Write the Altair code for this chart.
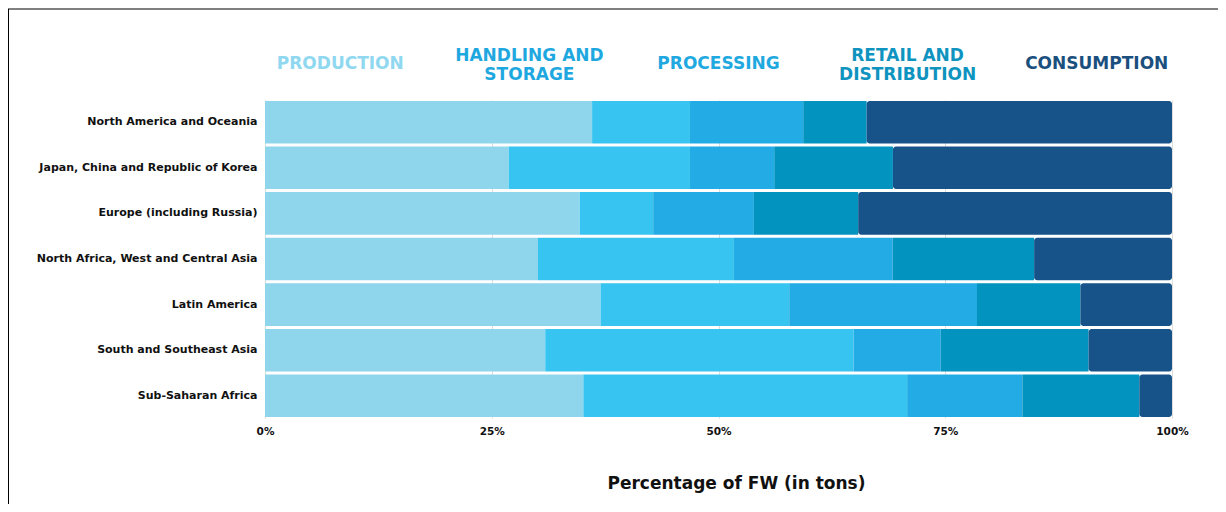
import altair as alt
import pandas as pd

regions = [
    "North America and Oceania",
    "Japan, China and Republic of Korea",
    "Europe (including Russia)",
    "North Africa, West and Central Asia",
    "Latin America",
    "South and Southeast Asia",
    "Sub-Saharan Africa",
]
stages = ["Production", "Handling and storage", "Processing",
          "Retail and distribution", "Consumption"]
headers = ["PRODUCTION", "HANDLING AND\nSTORAGE", "PROCESSING",
           "RETAIL AND\nDISTRIBUTION", "CONSUMPTION"]

production = [36.1, 26.9, 34.7, 30.1, 37.0, 30.9, 35.1]
handling = [10.8, 20.0, 8.1, 21.6, 20.8, 34.0, 35.7]
processing = [12.5, 9.3, 11.1, 17.5, 20.7, 9.6, 12.7]
retail = [7.0, 13.1, 11.5, 15.6, 11.4, 16.3, 12.9]
consumption = [33.7, 30.8, 34.6, 15.2, 10.1, 9.2, 3.6]

bar_colors = ["#8FD6EC", "#38C4F0", "#22ABE4", "#0393BF", "#175388"]
header_colors = ["#8FD8F0", "#1FA8E0", "#1FA9E0", "#0F93BF", "#1A4F7E"]

series = [production, handling, processing, retail, consumption]
rows = []
for si, (stage, vals) in enumerate(zip(stages, series)):
    for r, v in zip(regions, vals):
        rows.append({"region": r, "stage": stage, "idx": si, "value": v})
df = pd.DataFrame(rows)

hdf = pd.DataFrame({"stage": stages, "label": headers, "idx": list(range(5))})

FONT = "DejaVu Sans"

base = alt.Chart(df).transform_stack(
    stack="value", as_=["x0", "x1"], groupby=["region"],
    sort=[alt.SortField("idx")], offset="normalize"
)

y_enc = alt.Y("region:N", sort=regions, title=None,
              scale=alt.Scale(paddingInner=0.066, paddingOuter=0.02),
              axis=alt.Axis(domain=False, ticks=False, labelPadding=8,
                            labelFont=FONT, labelFontWeight="bold",
                            labelFontSize=11, labelColor="#111111",
                            labelLimit=300))
x_enc = alt.X("x0:Q", scale=alt.Scale(domain=[0, 1], nice=False),
              axis=alt.Axis(format=".0%", values=[0, 0.25, 0.5, 0.75, 1],
                            domain=False, ticks=False, labelPadding=8,
                            labelFlush=False,
                            labelFont=FONT, labelFontWeight="bold",
                            labelFontSize=10.5, labelColor="#111111",
                            grid=True, gridColor="#dddddd",
                            title="Percentage of FW (in tons)",
                            titleFont=FONT, titleFontWeight="bold",
                            titleFontSize=17, titleColor="#111111",
                            titlePadding=39, titleX=471))
color_enc = alt.Color("stage:N", scale=alt.Scale(domain=stages, range=bar_colors),
                      legend=None)

bars = base.transform_filter(alt.datum.stage != "Consumption").mark_bar().encode(
    y=y_enc, x=x_enc, x2="x1:Q", color=color_enc)
cons = base.transform_filter(alt.datum.stage == "Consumption").mark_bar(
    cornerRadiusEnd=3).encode(y=y_enc, x=x_enc, x2="x1:Q", color=color_enc)

head_base = alt.Chart(hdf).transform_calculate(
    hx="0.083 + datum.idx * 0.2085"
)
head_color = alt.Color("stage:N", scale=alt.Scale(domain=stages, range=header_colors),
                       legend=None)
head_x = alt.X("hx:Q", scale=alt.Scale(domain=[0, 1], nice=False))
text_style = dict(font=FONT, fontWeight="bold", fontSize=17, lineBreak="\n",
                  lineHeight=19.5, baseline="middle", align="center")

head_one = head_base.transform_filter(
    "indexof(datum.label, '\\n') < 0"
).mark_text(**text_style).encode(
    x=head_x, y=alt.value(-36), text="label:N", color=head_color)
head_two = head_base.transform_filter(
    "indexof(datum.label, '\\n') >= 0"
).mark_text(**text_style).encode(
    x=head_x, y=alt.value(-44.5), text="label:N", color=head_color)

frame_df = pd.DataFrame({"a": [0]})
top_line = alt.Chart(frame_df).mark_rule(color="#000000", strokeWidth=1).encode(
    x=alt.value(-257), x2=alt.value(953), y=alt.value(-91))
left_line = alt.Chart(frame_df).mark_rule(color="#000000", strokeWidth=1).encode(
    x=alt.value(-256.5), y=alt.value(-91), y2=alt.value(404))

chart = alt.layer(bars, cons, head_one, head_two, top_line, left_line).resolve_scale(
    color="independent"
).properties(
    width=907, height=318,
    autosize=alt.AutoSizeParams(type="none"),
    padding={"left": 257, "top": 92, "right": 46, "bottom": 86},
).configure_view(stroke=None)

chart.save("out.html", embed_options={"renderer": "svg", "actions": False})
